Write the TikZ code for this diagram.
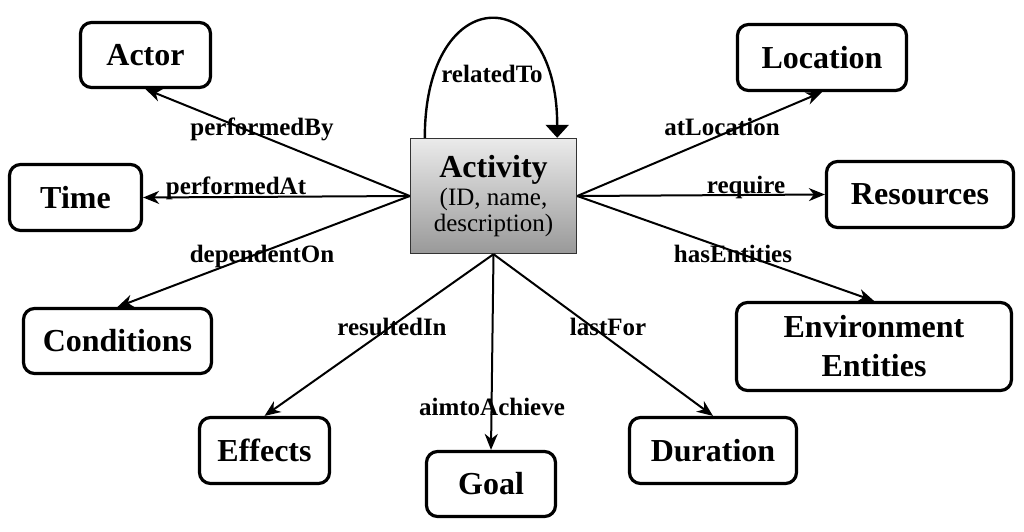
\documentclass[tikz,border=0pt]{standalone}
\usepackage{fontspec}
\setmainfont{Liberation Serif}
\usetikzlibrary{arrows.meta}
\begin{document}
\begin{tikzpicture}[x=1pt,y=-1pt,
  ent/.style={draw=black, line width=3.2pt, rounded corners=11pt, fill=white,
    font=\fontsize{32}{39}\selectfont\bfseries, align=center, inner sep=0pt},
  actbox/.style={draw=black!80, line width=1.4pt, top color=black!8, bottom color=black!40,
    minimum width=166pt, minimum height=115pt, inner sep=0pt, align=center,
    font=\fontsize{25}{26}\selectfont},
  arr/.style={line width=2pt, -{Stealth[length=16pt,width=13pt,inset=5pt]}},
  looparr/.style={line width=2.4pt, -{Triangle[length=13pt,width=23pt]}},
  lbl/.style={font=\fontsize{25}{25}\selectfont\bfseries, anchor=base, inner sep=0pt}
]
\useasboundingbox (0,0) rectangle (1024,531);

\node[actbox] (act) at (493.5,196) {{\fontsize{32}{32}\selectfont\bfseries Activity}\\[2pt](ID, name,\\description)};

\node[ent, minimum width=130pt, minimum height=65pt] (actor) at (145.5,55) {Actor};
\node[ent, minimum width=132pt, minimum height=66pt] (time) at (75.5,197.5) {Time};
\node[ent, minimum width=188pt, minimum height=65pt] (cond) at (117.5,341) {Conditions};
\node[ent, minimum width=130pt, minimum height=66pt] (eff) at (264.5,450.5) {Effects};
\node[ent, minimum width=129pt, minimum height=65pt] (goal) at (491,484) {Goal};
\node[ent, minimum width=167pt, minimum height=66pt] (dur) at (713,450.5) {Duration};
\node[ent, minimum width=275pt, minimum height=88pt] (env) at (874,346.5) {Environment\\Entities};
\node[ent, minimum width=187pt, minimum height=66pt] (res) at (920,194.5) {Resources};
\node[ent, minimum width=169pt, minimum height=66pt] (loc) at (822,57.5) {Location};

\draw[looparr] ([xshift=15pt]act.north west) .. controls +(0,-158) and +(0,-158) .. ([xshift=-20pt]act.north east)
  node[lbl] at (492,82) {relatedTo};

\draw[arr] (act.west) -- (actor.south) node[lbl] at (262,135) {performedBy};
\draw[arr] (act.west) -- (time.east) node[lbl] at (236,194) {performedAt};
\draw[arr] (act.west) -- (cond.north) node[lbl] at (262,262) {dependentOn};
\draw[arr] (act.south) -- (eff.north) node[lbl] at (392,335) {resultedIn};
\draw[arr] (act.south) -- (goal.north) node[lbl] at (492,415) {aimtoAchieve};
\draw[arr] (act.south) -- (dur.north) node[lbl] at (608,335) {lastFor};
\draw[arr] (act.east) -- (env.north) node[lbl] at (733,262) {hasEntities};
\draw[arr] (act.east) -- (res.west) node[lbl] at (746,193) {require};
\draw[arr] (act.east) -- (loc.south) node[lbl] at (722,135) {atLocation};
\end{tikzpicture}
\end{document}
